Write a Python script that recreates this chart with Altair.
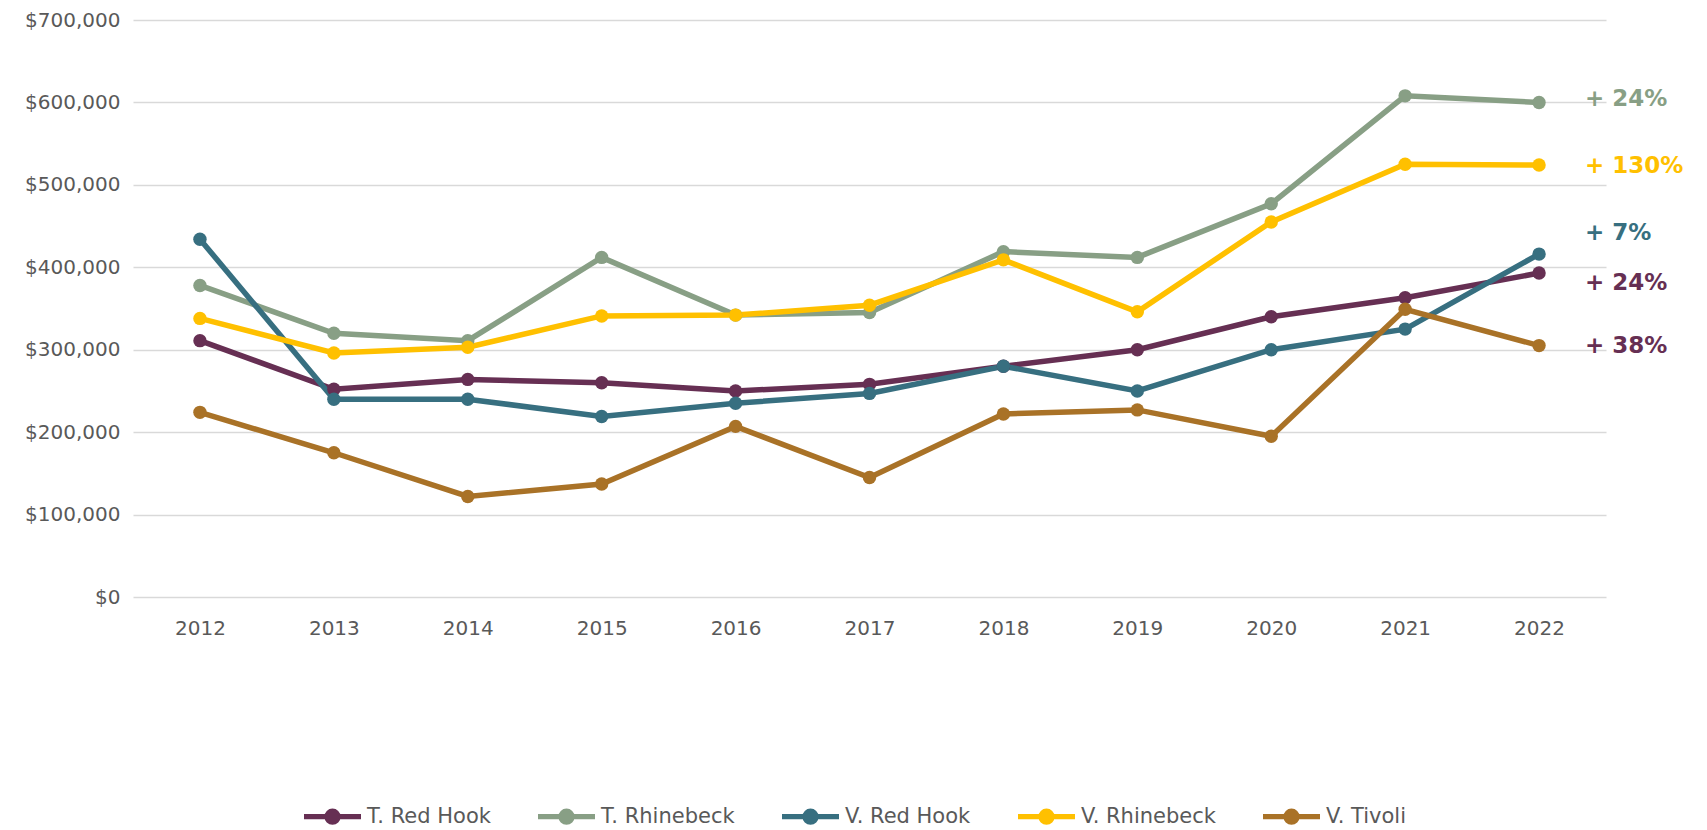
import altair as alt
import pandas as pd

years = ["2012", "2013", "2014", "2015", "2016", "2017", "2018", "2019", "2020", "2021", "2022"]
series_names = ["T. Red Hook", "T. Rhinebeck", "V. Red Hook", "V. Rhinebeck", "V. Tivoli"]
t_red_hook = [311000, 252000, 264000, 260000, 250000, 258000, 280000, 300000, 340000, 363000, 393000]
t_rhinebeck = [378000, 320000, 311000, 412000, 342000, 345000, 419000, 412000, 477000, 608000, 600000]
v_red_hook = [434000, 240000, 240000, 219000, 235000, 247000, 280000, 250000, 300000, 325000, 416000]
v_rhinebeck = [338000, 296000, 303000, 341000, 342000, 354000, 409000, 346000, 455000, 525000, 524000]
v_tivoli = [224000, 175000, 122000, 137000, 207000, 145000, 222000, 227000, 195000, 349000, 305000]
colors = ["#662F53", "#889F85", "#376F80", "#FFC000", "#A97227"]

# right-hand change labels (text, series colour group, vertical anchor value)
label_texts = ["+ 24%", "+ 130%", "+ 7%", "+ 24%", "+ 38%"]
label_series = ["T. Rhinebeck", "V. Rhinebeck", "V. Red Hook", "T. Red Hook", "T. Red Hook"]
label_values = [604000, 523000, 441000, 381000, 304000]

all_values = [t_red_hook, t_rhinebeck, v_red_hook, v_rhinebeck, v_tivoli]
rows = []
for name, vals in zip(series_names, all_values):
    for yr, v in zip(years, vals):
        rows.append({"Year": yr, "Series": name, "Value": v})
df = pd.DataFrame(rows)
df_lab = pd.DataFrame({"Year": ["2022"] * len(label_texts), "Series": label_series,
                       "Value": label_values, "Label": label_texts})

FONT = "DejaVu Sans"
GRAY = "#595959"

color_scale = alt.Scale(domain=series_names, range=colors)
x_enc = alt.X("Year:O", sort=years,
              scale=alt.Scale(paddingInner=0, paddingOuter=0),
              axis=alt.Axis(title=None, labelAngle=0, ticks=False, domain=False, grid=False,
                            labelPadding=21, labelFontSize=20, labelColor=GRAY, labelFont=FONT))
y_enc = alt.Y("Value:Q", scale=alt.Scale(domain=[0, 700000]),
              axis=alt.Axis(title=None, values=[0, 100000, 200000, 300000, 400000, 500000, 600000, 700000],
                            format="$,.0f", ticks=False, domain=False, grid=True,
                            gridColor="#D9D9D9", gridWidth=1.5,
                            labelPadding=13, labelFontSize=20, labelColor=GRAY, labelFont=FONT))

legend_path = "M-1,0 H1 M-0.19,0 A0.19,0.19 0 1,1 0.19,0 A0.19,0.19 0 1,1 -0.19,0"

lines = alt.Chart(df).mark_line(strokeWidth=5.5, point=alt.OverlayMarkDef(size=180, filled=True, opacity=1)).encode(
    x=x_enc,
    y=y_enc,
    color=alt.Color("Series:N", scale=color_scale, sort=series_names,
                    legend=alt.Legend(title=None, orient="none", direction="horizontal",
                                      legendX=168, legendY=765,
                                      symbolType=legend_path, symbolSize=3249, symbolStrokeWidth=5.4,
                                      labelFontSize=21, labelColor=GRAY, labelFont=FONT,
                                      columnPadding=36, labelOffset=3)),
    order=alt.Order("Year:O"),
)

labels = alt.Chart(df_lab).mark_text(align="left", baseline="middle", dx=46, fontSize=23,
                                     fontWeight="bold", font=FONT).encode(
    x=alt.X("Year:O", sort=years),
    y=alt.Y("Value:Q"),
    text="Label:N",
    color=alt.Color("Series:N", scale=color_scale, legend=None),
)

chart = alt.layer(lines, labels).properties(
    width=1473, height=577,
    autosize=alt.AutoSizeParams(type="none"),
    padding={"left": 125, "top": 12, "right": 90, "bottom": 240},
    background="white",
).configure_view(stroke=None)

chart.save("out.html", embed_options={"renderer": "svg", "actions": False})
